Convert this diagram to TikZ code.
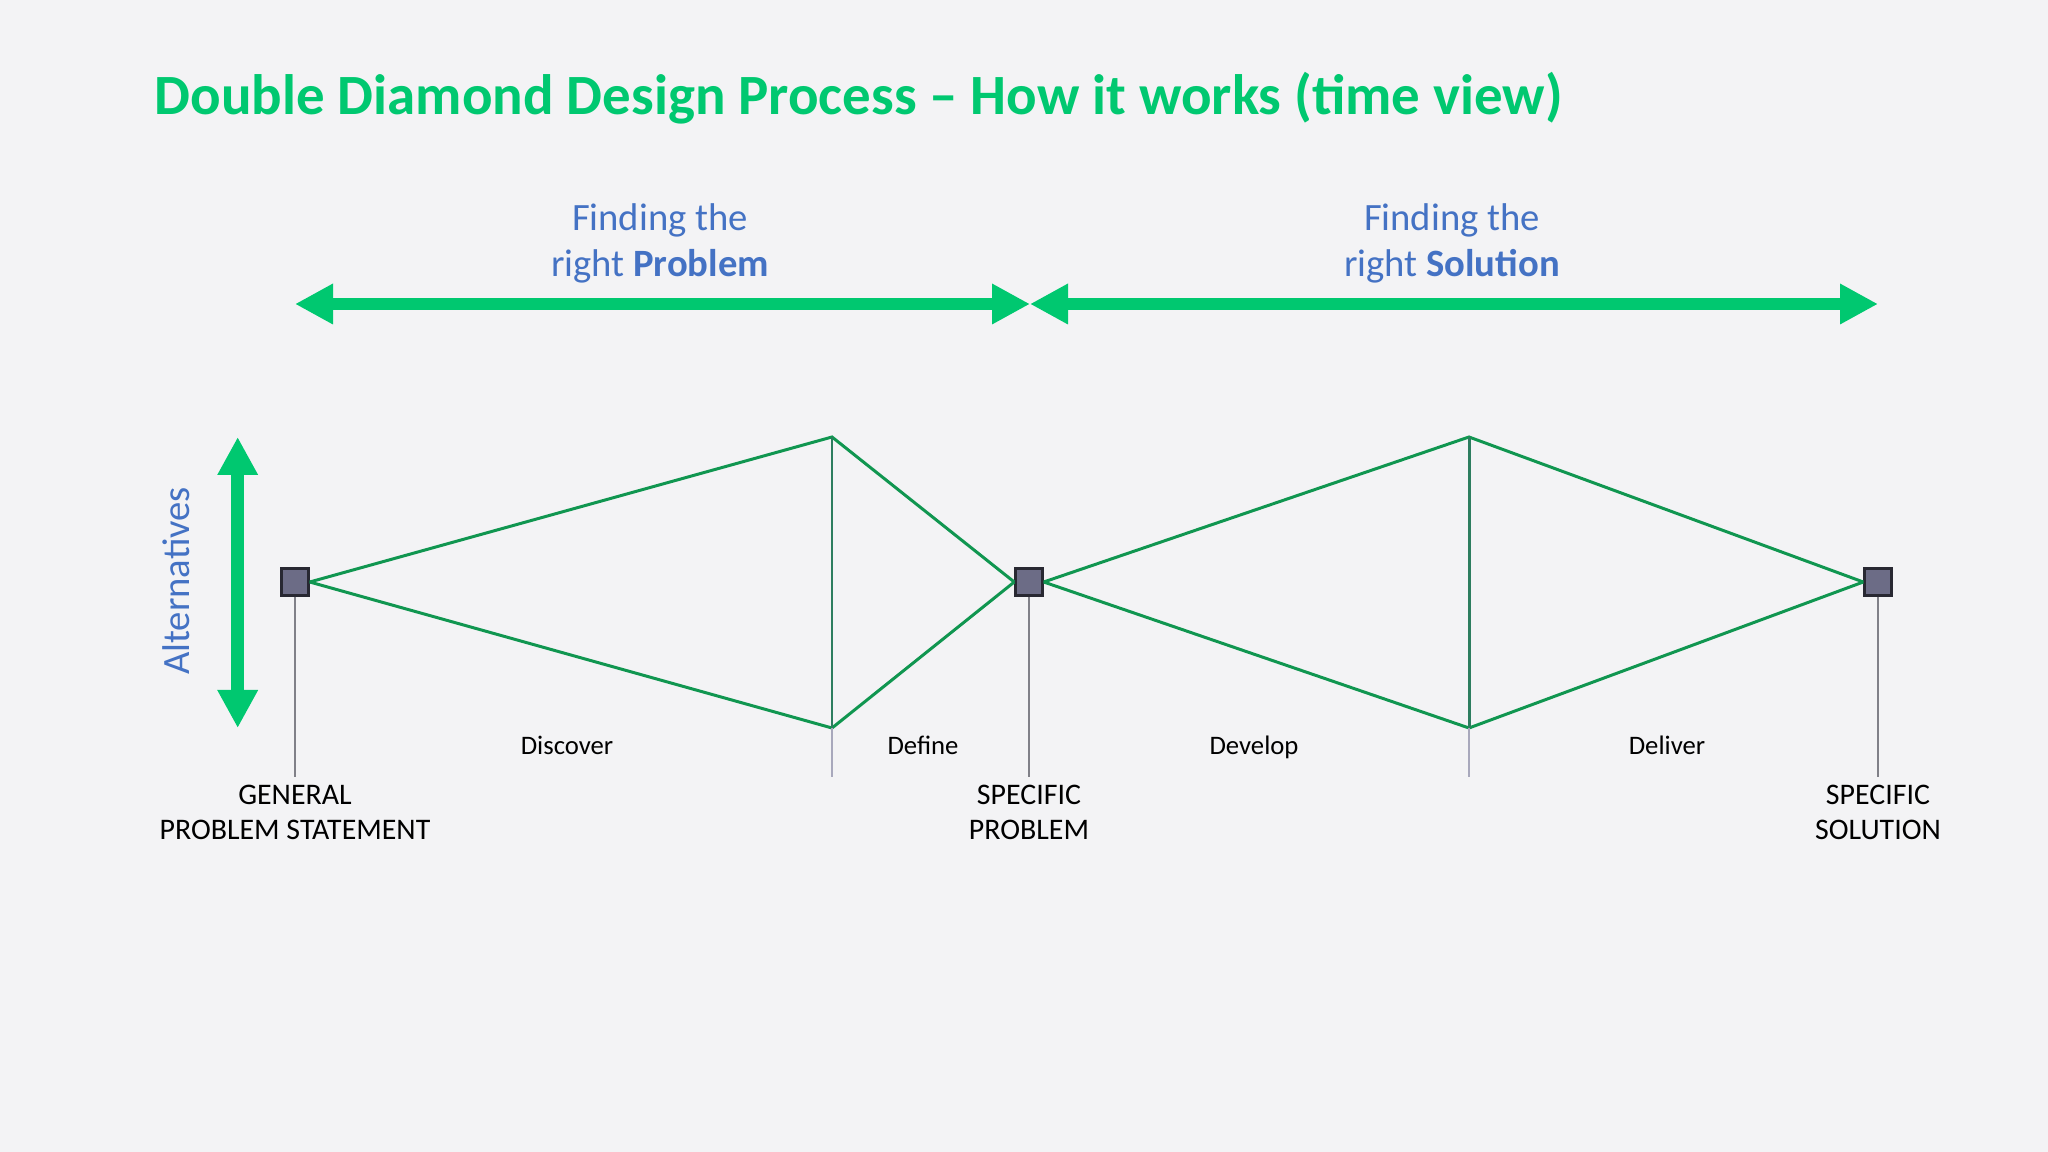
\documentclass[tikz,border=0pt]{standalone}
\usepackage{fontspec}
\setmainfont{Carlito}
\usetikzlibrary{arrows.meta}
\definecolor{pagebg}{RGB}{243,243,245}
\definecolor{ddgreen}{RGB}{0,200,112}
\definecolor{linegreen}{RGB}{16,150,80}
\definecolor{midgreen}{RGB}{45,125,95}
\definecolor{ddblue}{RGB}{68,114,196}
\definecolor{stemgray}{RGB}{128,128,136}
\definecolor{tickgray}{RGB}{168,168,188}
\definecolor{sqfill}{RGB}{108,108,134}
\definecolor{sqborder}{RGB}{40,40,50}

\begin{document}
\begin{tikzpicture}
    [
    every node/.style       = {inner sep=0pt, font=\fontsize{7.6pt}{10pt}\selectfont},
    milestone/.style        = {rectangle, draw=sqborder, fill=sqfill, line width=0.7pt, minimum size=0.27cm},
    caption/.style          = {align=center, text=ddblue, font=\fontsize{11pt}{13.1pt}\selectfont},
    spanarrow/.style        = {draw=ddgreen, line width=3.6pt,
                               {Triangle[length=3.8mm,width=3.8mm]}-{Triangle[length=3.8mm,width=3.8mm]}},
    diverge/.style          = {draw=linegreen, line width=0.85pt},
    stem/.style             = {draw=stemgray, line width=0.6pt},
    tickline/.style         = {draw=tickgray, line width=0.6pt},
    phase/.style            = {anchor=base},
    label/.style            = {align=center, font=\fontsize{8.5pt}{10pt}\selectfont}
    ]
    \fill[pagebg] (0,0) rectangle (20.48,-11.52);
    \useasboundingbox (0,0) rectangle (20.48,-11.52);

    \node [anchor=base west, text=ddgreen, font=\fontsize{16.2pt}{20pt}\selectfont\bfseries]
        (title) at (1.54,-1.15) {Double Diamond Design Process – How it works (time view)};

    \coordinate (pstart) at (2.95,-3.04);
    \coordinate (pmid)   at (10.30,-3.04);
    \coordinate (pend)   at (18.78,-3.04);
    \draw [spanarrow] (pstart) -- (pmid);
    \draw [spanarrow] (pmid) -- (pend);
    \node [caption] (problemtxt)  at (6.60,-2.43) {Finding the\\right \textbf{Problem}};
    \node [caption] (solutiontxt) at (14.52,-2.43) {Finding the\\right \textbf{Solution}};

    \coordinate (altup)   at (2.377,-4.37);
    \coordinate (altdown) at (2.377,-7.28);
    \draw [spanarrow] (altup) -- (altdown);
    \node [caption, rotate=90] (alttxt) at (1.76,-5.81) {Alternatives};

    \node [milestone] (general)  at (2.95,-5.82) {};
    \node [milestone] (specprob) at (10.29,-5.82) {};
    \node [milestone] (specsol)  at (18.78,-5.82) {};

    \coordinate (top1) at (8.32,-4.37);
    \coordinate (bot1) at (8.32,-7.28);
    \coordinate (top2) at (14.69,-4.37);
    \coordinate (bot2) at (14.69,-7.28);
    \coordinate (tick1) at (8.32,-7.77);
    \coordinate (tick2) at (14.69,-7.77);
    \coordinate (foot1) at (2.95,-7.77);
    \coordinate (foot2) at (10.29,-7.77);
    \coordinate (foot3) at (18.78,-7.77);

    \draw [diverge] (general.east) -- (top1) -- (specprob.west);
    \draw [diverge] (general.east) -- (bot1) -- (specprob.west);
    \draw [diverge] (specprob.east) -- (top2) -- (specsol.west);
    \draw [diverge] (specprob.east) -- (bot2) -- (specsol.west);
    \draw [diverge, draw=midgreen] (top1) -- (bot1);
    \draw [diverge, draw=midgreen] (top2) -- (bot2);
    \draw [tickline] (bot1) -- (tick1);
    \draw [tickline] (bot2) -- (tick2);
    \draw [stem] (general.south) -- (foot1);
    \draw [stem] (specprob.south) -- (foot2);
    \draw [stem] (specsol.south) -- (foot3);

    \node [phase] (discover) at (5.67,-7.55)  {Discover};
    \node [phase] (define)   at (9.23,-7.55)  {Define};
    \node [phase] (develop)  at (12.54,-7.55) {Develop};
    \node [phase] (deliver)  at (16.67,-7.55) {Deliver};

    \node [label] (generaltxt)  at (2.95,-8.12)  {GENERAL\\PROBLEM STATEMENT};
    \node [label] (specprobtxt) at (10.29,-8.12) {SPECIFIC\\PROBLEM};
    \node [label] (specsoltxt)  at (18.78,-8.12) {SPECIFIC\\SOLUTION};
\end{tikzpicture}
\end{document}
